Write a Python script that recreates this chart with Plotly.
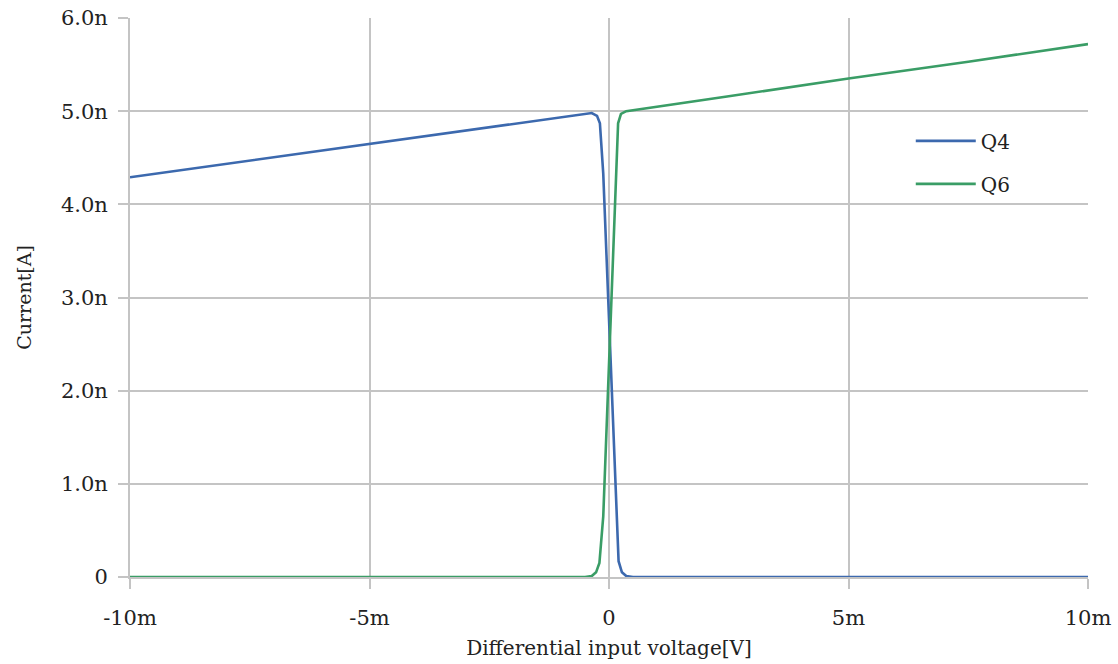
import plotly.graph_objects as go

# Data (x in mV, current in nA)
q4_x = [-10, -7.5, -5, -2.5, -1, -0.5, -0.36, -0.25, -0.19, -0.12, 0.2, 0.27, 0.36, 0.5, 1, 2.5, 5, 7.5, 10]
q4_y = [4.29, 4.47, 4.65, 4.83, 4.93, 4.97, 4.98, 4.95, 4.87, 4.33, 0.17, 0.05, 0.01, 0, 0, 0, 0, 0, 0]
q6_x = [-10, -7.5, -5, -2.5, -1, -0.5, -0.36, -0.27, -0.2, -0.12, 0.19, 0.25, 0.36, 0.5, 1, 2.5, 5, 7.5, 10]
q6_y = [0, 0, 0, 0, 0, 0, 0.01, 0.05, 0.15, 0.65, 4.87, 4.97, 5.0, 5.01, 5.05, 5.16, 5.35, 5.53, 5.72]

x_tickvals = [-10, -5, 0, 5, 10]
x_ticktext = ["-10m", "-5m", "0", "5m", "10m"]
y_tickvals = [0, 1, 2, 3, 4, 5, 6]
y_ticktext = ["0", "1.0n", "2.0n", "3.0n", "4.0n", "5.0n", "6.0n"]

FONT = "DejaVu Serif"
GRID = "#c4c4c4"

fig = go.Figure()
fig.add_trace(go.Scatter(x=q4_x, y=q4_y, mode="lines", name="Q4", legendgroup="a",
                         line=dict(color="#3c69ae", width=2.6)))
fig.add_trace(go.Scatter(x=q6_x, y=q6_y, mode="lines", name="Q6", legendgroup="b",
                         line=dict(color="#3a9d66", width=2.6)))

fig.update_layout(
    width=1118, height=664,
    margin=dict(l=130, r=30, t=18, b=87, autoexpand=False),
    plot_bgcolor="white", paper_bgcolor="white",
    font=dict(family=FONT, size=21, color="#222222"),
    showlegend=True,
    legend=dict(x=0.815, y=0.815, xanchor="left", yanchor="top",
                bgcolor="rgba(0,0,0,0)", font=dict(size=20, family=FONT),
                itemwidth=60, tracegroupgap=14, traceorder="grouped"),
    xaxis=dict(range=[-10, 10], tickvals=x_tickvals, ticktext=x_ticktext,
               showgrid=True, gridcolor=GRID, gridwidth=2,
               showline=True, linecolor=GRID, linewidth=2,
               ticks="outside", ticklen=10, tickcolor=GRID, tickwidth=2,
               zeroline=False, ticklabelstandoff=11, automargin=False,
               title=dict(text="Differential input voltage[V]", font=dict(size=20, family=FONT), standoff=12)),
    yaxis=dict(range=[0, 6], tickvals=y_tickvals, ticktext=y_ticktext,
               showgrid=True, gridcolor=GRID, gridwidth=2,
               showline=True, linecolor=GRID, linewidth=2,
               ticks="outside", ticklen=10, tickcolor=GRID, tickwidth=2,
               zeroline=False, ticklabelstandoff=6, automargin=False,
               title=dict(text="Current[A]", font=dict(size=19, family=FONT), standoff=24)),
)

fig.write_html("out.html")
